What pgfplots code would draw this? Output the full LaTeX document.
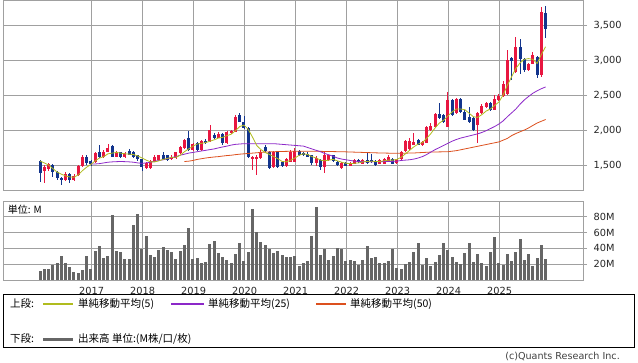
\documentclass[border=0pt]{standalone}
\usepackage{fontspec}
\setmainfont{DejaVu Sans}
\newfontfamily\jp{Noto Sans CJK JP}
\usepackage{pgfplots}
\pgfplotsset{compat=1.18}
\usepackage{pgfplotstable}

\definecolor{upc}{RGB}{232,22,64}
\definecolor{dnc}{RGB}{18,52,140}
\definecolor{ma5}{RGB}{176,188,30}
\definecolor{ma25}{RGB}{140,40,200}
\definecolor{ma50}{RGB}{220,80,30}
\definecolor{volc}{RGB}{102,102,102}
\definecolor{gridc}{RGB}{160,160,160}

\pgfplotstableread{
i o h l c
0 1557 1571 1262 1381
1 1420 1500 1250 1470
2 1440 1525 1420 1510
3 1505 1515 1335 1400
4 1400 1410 1290 1310
5 1315 1330 1220 1280
6 1285 1400 1270 1370
7 1365 1390 1250 1280
8 1280 1370 1270 1350
9 1355 1500 1345 1490
10 1480 1640 1470 1610
11 1610 1650 1500 1525
12 1555 1575 1490 1510
13 1540 1680 1530 1665
14 1680 1790 1600 1620
15 1620 1710 1600 1690
16 1690 1800 1680 1750
17 1765 1785 1610 1620
18 1620 1700 1610 1680
19 1680 1690 1600 1620
20 1615 1680 1600 1665
21 1700 1725 1640 1650
22 1690 1700 1600 1620
23 1640 1650 1560 1580
24 1580 1590 1420 1470
25 1455 1545 1440 1530
26 1460 1570 1450 1555
27 1550 1640 1540 1615
28 1575 1650 1560 1640
29 1640 1690 1570 1580
30 1640 1650 1560 1575
31 1580 1640 1570 1620
32 1595 1690 1585 1680
33 1670 1770 1660 1760
34 1740 1870 1730 1855
35 1880 1985 1700 1715
36 1715 1815 1705 1800
37 1815 1830 1700 1710
38 1710 1860 1700 1845
39 1845 1870 1800 1810
40 1845 2070 1830 2000
41 1930 1960 1875 1890
42 1890 1965 1880 1950
43 1945 1960 1790 1810
44 1810 1990 1800 1975
45 1955 2000 1945 1990
46 1975 2210 1965 2190
47 2210 2240 2110 2120
48 2120 2200 2010 2025
49 2025 2040 1600 1620
50 1580 1625 1430 1610
51 1580 1640 1360 1610
52 1595 1720 1590 1690
53 1760 1790 1690 1700
54 1690 1700 1445 1455
55 1470 1700 1460 1690
56 1690 1700 1460 1470
57 1545 1555 1470 1480
58 1480 1600 1470 1590
59 1550 1720 1540 1690
60 1550 1740 1540 1705
61 1705 1720 1630 1645
62 1670 1690 1630 1640
63 1660 1680 1610 1620
64 1640 1650 1500 1525
65 1525 1630 1480 1600
66 1570 1590 1430 1470
67 1470 1680 1380 1640
68 1570 1650 1560 1640
69 1640 1650 1550 1560
70 1550 1560 1490 1500
71 1455 1540 1440 1525
72 1525 1540 1480 1490
73 1490 1545 1480 1530
74 1520 1580 1510 1570
75 1570 1580 1535 1545
76 1520 1585 1510 1575
77 1570 1670 1520 1530
78 1575 1660 1530 1540
79 1560 1570 1490 1500
80 1520 1580 1510 1570
81 1520 1600 1510 1590
82 1560 1650 1550 1620
83 1590 1600 1510 1520
84 1530 1590 1520 1580
85 1580 1700 1570 1680
86 1700 1860 1690 1840
87 1730 1890 1720 1850
88 1790 1960 1780 1830
89 1855 1870 1780 1790
90 1780 1850 1770 1830
91 1820 2060 1810 2040
92 2000 2100 1980 2060
93 2040 2250 2030 2235
94 2235 2380 2160 2170
95 2210 2230 2100 2120
96 2050 2545 2040 2430
97 2430 2450 2200 2220
98 2240 2460 2230 2450
99 2450 2460 2250 2260
100 2260 2280 2140 2150
101 2190 2330 2100 2120
102 2165 2180 1990 2000
103 2070 2260 1810 2240
104 2240 2370 2230 2350
105 2330 2400 2320 2380
106 2380 2395 2270 2290
107 2290 2500 2280 2450
108 2430 2520 2420 2490
109 2480 2700 2470 2660
110 2520 3143 2500 3000
111 3025 3040 2710 2980
112 2830 3333 2810 3190
113 3190 3300 2800 3020
114 3020 3030 2830 2860
115 2860 2960 2850 2950
116 2950 3110 2940 3070
117 3050 3060 2740 2790
118 2790 3760 2760 3690
119 3670 3770 3310 3440
}\ohlc

\pgfplotstableread{
i v
0 11.4
1 13.9
2 13.9
3 19
4 21
5 30
6 21
7 17
8 10.5
9 8.4
10 12.6
11 30
12 14
13 36.6
14 43
15 28
16 30
17 82
18 36.6
19 35
20 26.5
21 26.5
22 69.5
23 83
24 39
25 55.6
26 31.6
27 29
28 38
29 41.7
30 38
31 35.4
32 26.5
33 36.6
34 44
35 65.7
36 26.5
37 27.8
38 21.5
39 22.7
40 45.5
41 49
42 34
43 29
44 25
45 21.5
46 32.8
47 46.7
48 24
49 35.4
50 89.7
51 60.6
52 48
53 44
54 39
55 34
56 36.6
57 31.6
58 29
59 29
60 30
61 17.7
62 21.5
63 24
64 55.6
65 92
66 31.6
67 39
68 25
69 30
70 40
71 39
72 24
73 25
74 24
75 19
76 25
77 43
78 27.8
79 29
80 21.5
81 21.5
82 24
83 39
84 15
85 14
86 20
87 22.7
88 35.4
89 46.7
90 19
91 27.8
92 17.7
93 22.7
94 31.6
95 46.7
96 38
97 29
98 22.7
99 20
100 34
101 46.7
102 22.7
103 32.8
104 21.5
105 17.7
106 35.4
107 54.3
108 21.5
109 19
110 32.8
111 24
112 35.4
113 51.8
114 25
115 32.8
116 17.7
117 27.8
118 44
119 26.5
}\vol

\pgfplotsset{chartbase/.style={
  scale only axis, width=579.7pt,
  xmin=-8.64, xmax=127.8,
  axis line style={gridc, line width=0.8pt},
  grid=major, major grid style={gridc, line width=0.8pt},
  xtick={12.16,24.16,36.16,48.16,60.16,72.16,84.16,96.16,108.16},
  xtick style={draw=none},
  ytick style={gridc, line width=0.8pt},
  ytick pos=right, yticklabel pos=right,
  tick align=outside, major tick length=4pt,
  ticklabel style={font=\fontsize{9.8}{11}\selectfont, text=black!85},
  /pgf/number format/assume math mode=true,
  scaled ticks=false,
  yticklabel style={xshift=3pt},
},
candle/.style 2 args={draw=none, mark=none, forget plot, error bars/.cd, y dir=both, y explicit, error mark=none,
  error bar style={draw=#1, solid, line width=#2}}}

\begin{document}
\begin{tikzpicture}[x=1pt,y=1pt]
\path[use as bounding box] (0,0) rectangle (638,362);

% ---------- price panel ----------
\begin{axis}[chartbase, at={(3.3pt,171.5pt)}, anchor=south west, height=190pt,
  ymin=1136, ymax=3850, ytick={1500,2000,2500,3000,3500},
  xticklabels={}, /pgf/number format/1000 sep={,}]
% wicks
\addplot[candle={upc}{0.9pt}]
  table[x=i, y expr={\thisrow{c}>=\thisrow{o} ? 0.5*(\thisrow{h}+\thisrow{l}) : nan},
        y error expr={0.5*(\thisrow{h}-\thisrow{l})}] {\ohlc};
\addplot[candle={dnc}{0.9pt}]
  table[x=i, y expr={\thisrow{c}<\thisrow{o} ? 0.5*(\thisrow{h}+\thisrow{l}) : nan},
        y error expr={0.5*(\thisrow{h}-\thisrow{l})}] {\ohlc};
% bodies
\addplot[candle={upc}{3pt}]
  table[x=i, y expr={\thisrow{c}>=\thisrow{o} ? 0.5*(\thisrow{o}+\thisrow{c}) : nan},
        y error expr={max(0.5*abs(\thisrow{c}-\thisrow{o}),6)}] {\ohlc};
\addplot[candle={dnc}{3pt}]
  table[x=i, y expr={\thisrow{c}<\thisrow{o} ? 0.5*(\thisrow{o}+\thisrow{c}) : nan},
        y error expr={max(0.5*abs(\thisrow{c}-\thisrow{o}),6)}] {\ohlc};
% moving averages
\addplot[ma50, line width=0.8pt, mark=none] coordinates {
(34,1550)(35,1555)(36,1565)(37,1580)(38,1590)(39,1600)(40,1608)(41,1615)(42,1620)(43,1628)(44,1635)(45,1640)(46,1648)(47,1655)(48,1660)(49,1665)(50,1670)(51,1675)(52,1680)(53,1685)(54,1688)(55,1690)(56,1692)(58,1695)(60,1697)(64,1697)(68,1693)(72,1688)(76,1680)(80,1672)(84,1667)(88,1672)(92,1685)(96,1690)(98,1705)(100,1730)(102,1755)(104,1780)(106,1805)(108,1830)(110,1880)(111,1920)(112,1950)(113,1975)(114,2000)(115,2030)(116,2065)(117,2100)(118,2125)(119,2150)};
\addplot[ma25, line width=0.8pt, mark=none] coordinates {
(12,1514)(13,1515)(14,1520)(15,1530)(16,1540)(17,1545)(18,1548)(19,1550)(20,1548)(21,1545)(22,1540)(23,1530)(24,1524)(25,1530)(26,1540)(27,1555)(28,1565)(29,1575)(30,1590)(31,1605)(32,1620)(33,1640)(34,1655)(35,1670)(36,1680)(37,1690)(38,1700)(39,1710)(40,1720)(41,1730)(42,1745)(43,1758)(44,1770)(45,1785)(46,1795)(47,1800)(48,1805)(52,1805)(55,1805)(56,1800)(57,1795)(58,1790)(59,1785)(60,1780)(61,1775)(62,1770)(63,1750)(64,1730)(65,1710)(66,1690)(67,1665)(68,1645)(69,1625)(70,1600)(71,1585)(72,1575)(73,1565)(74,1555)(75,1550)(76,1548)(78,1545)(80,1548)(82,1550)(84,1555)(85,1565)(86,1570)(87,1575)(88,1585)(89,1600)(90,1620)(91,1650)(92,1685)(93,1720)(94,1750)(95,1780)(96,1810)(97,1840)(98,1865)(99,1885)(100,1900)(101,1915)(102,1930)(103,1945)(104,1965)(105,1990)(106,2020)(107,2050)(108,2085)(109,2130)(110,2190)(111,2245)(112,2300)(113,2370)(114,2430)(115,2480)(116,2525)(117,2560)(118,2590)(119,2615)};
\addplot[ma5, line width=0.8pt, mark=none] coordinates {
(0,1557)(1,1530)(2,1500)(3,1450)(4,1400)(5,1370)(6,1345)(7,1330)(8,1325)(9,1360)(10,1420)(11,1470)(12,1510)(13,1560)(14,1600)(15,1620)(16,1660)(17,1670)(18,1680)(19,1670)(20,1660)(21,1655)(22,1650)(23,1630)(24,1600)(25,1570)(26,1545)(27,1545)(28,1560)(29,1580)(30,1595)(31,1610)(32,1610)(33,1640)(34,1690)(35,1730)(36,1770)(37,1800)(38,1810)(39,1820)(40,1840)(41,1860)(42,1885)(43,1895)(44,1920)(45,1940)(46,1990)(47,2050)(48,2070)(49,2010)(50,1900)(51,1780)(52,1720)(53,1680)(54,1650)(55,1620)(56,1590)(57,1550)(58,1545)(59,1570)(60,1600)(61,1640)(62,1660)(63,1650)(64,1620)(65,1600)(66,1570)(67,1560)(68,1570)(69,1580)(70,1560)(71,1540)(72,1525)(73,1520)(74,1525)(75,1530)(76,1545)(77,1550)(78,1555)(79,1550)(80,1550)(81,1560)(82,1570)(83,1570)(84,1580)(85,1610)(86,1660)(87,1710)(88,1760)(89,1800)(90,1820)(91,1880)(92,1950)(93,2030)(94,2100)(95,2140)(96,2200)(97,2260)(98,2300)(99,2300)(100,2290)(101,2240)(102,2190)(103,2180)(104,2220)(105,2270)(106,2300)(107,2350)(108,2400)(109,2500)(110,2640)(111,2760)(112,2880)(113,2960)(114,3010)(115,3020)(116,3010)(117,2950)(118,3080)(119,3190)};
\end{axis}

% ---------- volume panel ----------
\begin{axis}[chartbase, at={(3.3pt,82pt)}, anchor=south west, height=78.3pt,
  ymin=0, ymax=99, ytick={20,40,60,80}, yticklabels={20M,40M,60M,80M},
  xticklabels={2017,2018,2019,2020,2021,2022,2023,2024,2025}]
\addplot[ycomb, volc, line width=3pt, mark=none] table[x=i, y=v] {\vol};
\node[anchor=west, font=\jp\fontsize{10}{11}\selectfont, fill=white, inner sep=1pt] at (rel axis cs:0.006,0.9) {単位: M};
\end{axis}

% ---------- legend ----------
\draw[black, line width=0.8pt] (3.3,15) rectangle (634.5,67.5);
\begin{scope}[every node/.style={anchor=west, inner sep=0pt, font=\jp\fontsize{10.5}{12}\selectfont}]
\node at (10,58) {上段:};
\draw[ma5, line width=1.2pt] (43,58) -- (73,58);
\node at (78,58) {単純移動平均(5)};
\draw[ma25, line width=1.2pt] (171,58) -- (204,58);
\node at (208,58) {単純移動平均(25)};
\draw[ma50, line width=1.2pt] (316,58) -- (346,58);
\node at (350,58) {単純移動平均(50)};
\node at (10,23) {下段:};
\draw[volc, line width=3pt] (43,23) -- (73,23);
\node at (78,23) {出来高 単位:(M株/口/枚)};
\end{scope}
\node[anchor=east, inner sep=0pt, text=black!75, font=\fontsize{9.6}{10}\selectfont] at (620,5.5) {(c)Quants Research Inc.};
\end{tikzpicture}
\end{document}
